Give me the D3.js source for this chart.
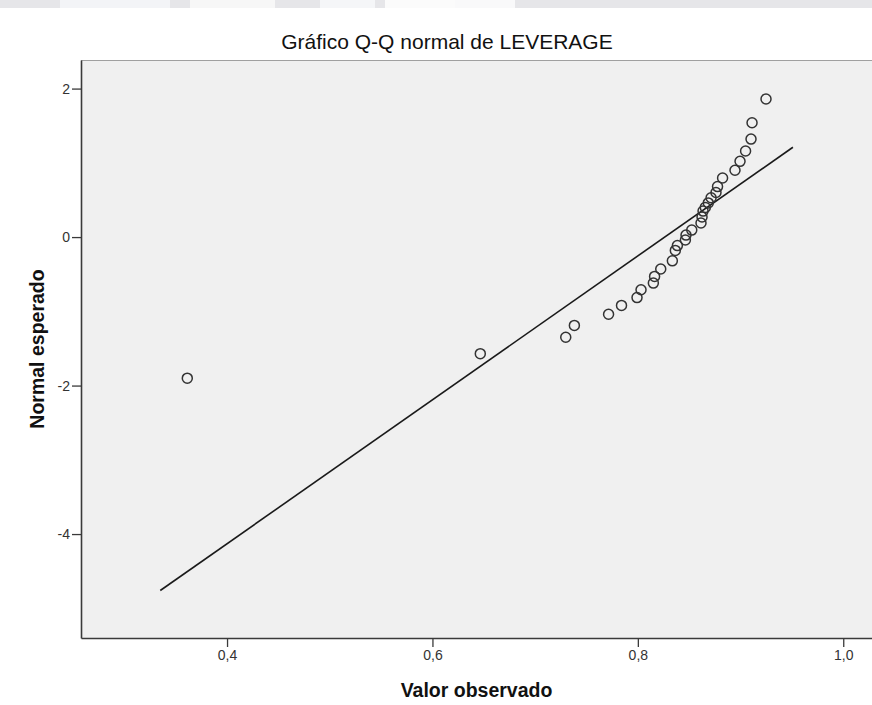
<!DOCTYPE html>
<html>
<head>
<meta charset="utf-8">
<script src="https://cdn.jsdelivr.net/npm/d3@7"></script>
<style>
  html, body { margin: 0; padding: 0; background: #ffffff; }
  svg { display: block; }
</style>
</head>
<body>
<svg id="chart" width="872" height="705"></svg>
<script>
// Observed LEVERAGE values (sorted) and their expected normal quantiles
const observed = [
  0.3613, 0.6466, 0.7298, 0.7382, 0.7715, 0.7841, 0.7992, 0.8031,
  0.8151, 0.8163, 0.8223, 0.8336, 0.8365, 0.8385, 0.8463, 0.8469,
  0.8525, 0.8615, 0.8625, 0.8635, 0.8657, 0.8686, 0.8713, 0.8761,
  0.8776, 0.8825, 0.8946, 0.8995, 0.9049, 0.9102, 0.9112, 0.9248
];
const expectedNormal = [
  -1.90, -1.57, -1.35, -1.19, -1.04, -0.92, -0.815, -0.71,
  -0.62, -0.53, -0.43, -0.32, -0.18, -0.115, -0.04, 0.027,
  0.094, 0.19, 0.27, 0.35, 0.40, 0.46, 0.53, 0.60,
  0.68, 0.795, 0.90, 1.02, 1.16, 1.32, 1.54, 1.86
];

// Reference line of the fitted normal distribution (end points)
const lineX = [0.335, 0.951];
const lineY = [-4.76, 1.21];

// Axis ticks
const xTicks = [0.4, 0.6, 0.8, 1.0];
const yTicks = [2, 0, -2, -4];

const titleText = "Gráfico Q-Q normal de LEVERAGE";
const xTitle = "Valor observado";
const yTitle = "Normal esperado";

const svg = d3.select("#chart");
const W = 872, H = 705;
const plot = { left: 81, right: 872, top: 60, bottom: 638 };
const FONT = "Liberation Sans, Arial, sans-serif";

const x = d3.scaleLinear().domain([0.2578, 1.0280]).range([plot.left, plot.right]);
const y = d3.scaleLinear().domain([-5.40, 2.385]).range([plot.bottom, plot.top]);

// faint banner strip along the top edge
const banner = svg.append("g");
banner.append("rect").attr("x", 0).attr("y", 0).attr("width", W).attr("height", 8).attr("fill", "#e6e6e9");
banner.append("rect").attr("x", 60).attr("y", 0).attr("width", 110).attr("height", 8).attr("fill", "#f3f4f7");
banner.append("rect").attr("x", 190).attr("y", 0).attr("width", 85).attr("height", 8).attr("fill", "#f7f7f7");
banner.append("rect").attr("x", 320).attr("y", 0).attr("width", 55).attr("height", 8).attr("fill", "#f5f6f8");
banner.append("rect").attr("x", 385).attr("y", 0).attr("width", 80).attr("height", 8).attr("fill", "#fbfbfb");
banner.append("rect").attr("x", 455).attr("y", 0).attr("width", 60).attr("height", 8).attr("fill", "#f9f9fa");

// plot background
svg.append("rect")
  .attr("x", plot.left).attr("y", plot.top)
  .attr("width", plot.right - plot.left).attr("height", plot.bottom - plot.top)
  .attr("fill", "#f0f0f0");

// top frame line
svg.append("line")
  .attr("x1", plot.left).attr("x2", plot.right)
  .attr("y1", plot.top + 0.5).attr("y2", plot.top + 0.5)
  .attr("stroke", "#a0a0a0").attr("stroke-width", 1);

// axes
const xAxis = d3.axisBottom(x)
  .tickValues(xTicks)
  .tickSize(9)
  .tickPadding(3)
  .tickSizeOuter(0)
  .tickFormat(d => d.toFixed(1).replace(".", ","));
const yAxis = d3.axisLeft(y)
  .tickValues(yTicks)
  .tickSize(9)
  .tickPadding(2)
  .tickSizeOuter(0)
  .tickFormat(d => String(d));

const gx = svg.append("g").attr("transform", `translate(0,${plot.bottom})`).call(xAxis);
const gy = svg.append("g").attr("transform", `translate(${plot.left},0)`).call(yAxis);

[gx, gy].forEach(g => {
  g.select(".domain").attr("stroke", "#3a3a3a").attr("stroke-width", 1.6);
  g.selectAll(".tick line").attr("stroke", "#3a3a3a").attr("stroke-width", 1.3);
  g.selectAll(".tick text")
    .attr("fill", "#333")
    .attr("font-family", FONT)
    .attr("font-size", 14);
});

// reference line
svg.append("line")
  .attr("x1", x(lineX[0])).attr("y1", y(lineY[0]))
  .attr("x2", x(lineX[1])).attr("y2", y(lineY[1]))
  .attr("stroke", "#1a1a1a").attr("stroke-width", 1.6);

// observed points
svg.append("g")
  .selectAll("circle")
  .data(observed.map((v, i) => [v, expectedNormal[i]]))
  .join("circle")
  .attr("cx", d => x(d[0]))
  .attr("cy", d => y(d[1]))
  .attr("r", 5)
  .attr("fill", "none")
  .attr("stroke", "#333")
  .attr("stroke-width", 1.5);

// title
svg.append("text")
  .attr("x", 447).attr("y", 49)
  .attr("text-anchor", "middle")
  .attr("font-family", FONT)
  .attr("font-size", 21)
  .attr("fill", "#111")
  .text(titleText);

// axis titles, centred on the plot area
svg.append("text")
  .attr("x", (plot.left + plot.right) / 2).attr("y", 697)
  .attr("text-anchor", "middle")
  .attr("font-family", FONT)
  .attr("font-size", 19.5)
  .attr("font-weight", "bold")
  .attr("fill", "#111")
  .text(xTitle);

svg.append("text")
  .attr("transform", `translate(44,${(plot.top + plot.bottom) / 2}) rotate(-90)`)
  .attr("text-anchor", "middle")
  .attr("font-family", FONT)
  .attr("font-size", 19.5)
  .attr("font-weight", "bold")
  .attr("fill", "#111")
  .text(yTitle);
</script>
</body>
</html>
